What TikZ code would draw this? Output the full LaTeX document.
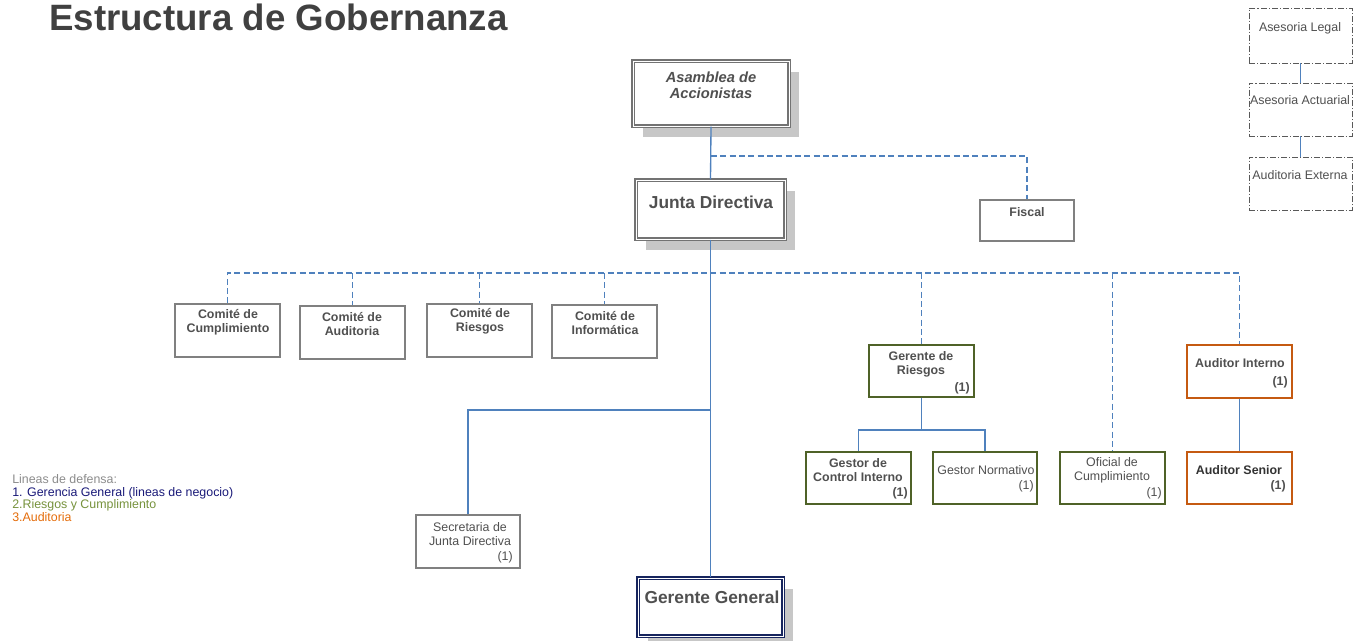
\documentclass[tikz,border=0pt]{standalone}
\usepackage{fontspec}
\setmainfont{Liberation Sans}
\usetikzlibrary{fit,shadows}
\definecolor{lineblue}{RGB}{79,129,189}
\definecolor{boxgray}{RGB}{128,128,128}
\definecolor{txtgray}{RGB}{80,80,80}
\definecolor{riskgreen}{RGB}{79,98,40}
\definecolor{audorange}{RGB}{197,90,17}
\definecolor{navy}{RGB}{23,37,94}
\definecolor{legnavy}{RGB}{25,25,120}
\definecolor{legolive}{RGB}{118,146,60}
\definecolor{legorange}{RGB}{228,108,10}
\tikzset{
  box/.style={draw=boxgray, line width=0.8pt, fill=white, inner sep=0pt},
  greenbox/.style={box, draw=riskgreen},
  orangebox/.style={box, draw=audorange},
  mainbox/.style={box, draw=boxgray!90!black, line width=1pt, double=white, double distance=0.7pt,
    drop shadow={shadow xshift=7.5pt, shadow yshift=-8.5pt, fill=black!22, opacity=1}},
  ggbox/.style={box, draw=navy, line width=1pt, double=white, double distance=0.7pt,
    drop shadow={shadow xshift=7.5pt, shadow yshift=-8.5pt, fill=black!22, opacity=1}},
  extbox/.style={box, draw=black!65, line width=0.7pt, dash pattern=on 4.5pt off 1.5pt on 0.8pt off 1.5pt},
  txt/.style={inner sep=0pt, align=center, text=txtgray, font=\fontsize{9.3}{10.5}\selectfont},
  btxt/.style={txt, font=\fontsize{9.3}{10.5}\selectfont\bfseries},
  one/.style={inner sep=0pt, anchor=east, text=txtgray, font=\fontsize{9.3}{10.5}\selectfont\bfseries},
  solidline/.style={draw=lineblue, line width=1pt},
  dashline/.style={draw=lineblue, line width=1pt, dash pattern=on 4.5pt off 2.5pt},
}
\begin{document}
\begin{tikzpicture}[x=0.75pt,y=-0.75pt]
\useasboundingbox (0,0) rectangle (1355,641);

% title
\node[inner sep=0pt, anchor=base west, text=black!75, font=\fontsize{27.5}{30}\selectfont\bfseries] (title) at (49,31) {Estructura de Gobernanza};

% main boxes
\node[mainbox, fit={(633,61) (789,126)}] (asam) {};
\node[btxt, font=\fontsize{11}{12}\selectfont\bfseries\itshape] (asamt) at (711,85) {Asamblea de\\Accionistas};
\node[mainbox, fit={(636,180) (785,239)}] (junta) {};
\node[btxt, font=\fontsize{13}{14}\selectfont\bfseries] (juntat) at (711,202) {Junta Directiva};
\node[ggbox, fit={(638,578) (783,636)}] (gg) {};
\node[btxt, font=\fontsize{13}{14}\selectfont\bfseries] (ggt) at (712,597) {Gerente General};

% fiscal
\node[box, fit={(980,200) (1074,241)}] (fiscal) {};
\node[btxt] (fiscalt) at (1027,212) {Fiscal};

% comites
\node[box, fit={(175,304) (280,357)}] (cc) {};
\node[btxt] (cct) at (228,322) {Comité de\\Cumplimiento};
\node[box, fit={(300,306) (405,359)}] (ca) {};
\node[btxt] (cat) at (352,324) {Comité de\\Auditoria};
\node[box, fit={(427,304) (532,357)}] (cr) {};
\node[btxt] (crt) at (480,321.5) {Comité de\\Riesgos};
\node[box, fit={(552,305) (657,358)}] (ci) {};
\node[btxt] (cit) at (605,323.5) {Comité de\\Informática};

% risk
\node[greenbox, fit={(869,345) (974,397)}] (gr) {};
\node[btxt] (grt) at (921,364.7) {Gerente de\\Riesgos};
\node[one] (gr1) at (970,388) {(1)};
\node[greenbox, fit={(806,452) (911,504)}] (gcl) {};
\node[btxt] (gclt) at (858,470) {Gestor de\\Control Interno};
\node[one] (gcl1) at (908,493) {(1)};
\node[greenbox, fit={(933,452) (1037,504)}] (gn) {};
\node[txt] (gnt) at (986,470) {Gestor Normativo};
\node[one, font=\fontsize{9.3}{10.5}\selectfont] (gn1) at (1034,486) {(1)};
\node[greenbox, fit={(1060,452) (1165,504)}] (oc) {};
\node[txt] (oct) at (1112,470) {Oficial de\\Cumplimiento};
\node[one, font=\fontsize{9.3}{10.5}\selectfont] (oc1) at (1162,493) {(1)};

% audit
\node[orangebox, fit={(1187,345) (1292,398)}] (ai) {};
\node[btxt] (ait) at (1240,363) {Auditor Interno};
\node[one] (ai1) at (1288,382) {(1)};
\node[orangebox, fit={(1187,452) (1292,504)}] (as) {};
\node[btxt, text=black!80] (ast) at (1239,470) {Auditor Senior};
\node[one] (as1) at (1286,486) {(1)};

% secretaria
\node[box, fit={(416,515) (520,568)}] (sec) {};
\node[txt] (sect) at (470,534.5) {Secretaria de\\Junta Directiva};
\node[one, font=\fontsize{9.3}{10.5}\selectfont] (sec1) at (513,557) {(1)};

% external advisors
\node[extbox, fit={(1249,8) (1352,63)}] (al) {};
\node[txt] (alt) at (1300,28) {Asesoria Legal};
\node[extbox, fit={(1249,83) (1352,136)}] (aa) {};
\node[txt] (aat) at (1300,100) {Asesoria Actuarial};
\node[extbox, fit={(1249,157) (1352,210)}] (ae) {};
\node[txt] (aet) at (1300,175) {Auditoria Externa};

% legend
\node[inner sep=0pt, anchor=north west, align=left, font=\fontsize{9.3}{9.6}\selectfont] (legend) at (12,474)
  {\textcolor{black!45}{Lineas de defensa:}\\
   \textcolor{legnavy}{1. Gerencia General (lineas de negocio)}\\
   \textcolor{legolive}{2.Riesgos y Cumplimiento}\\
   \textcolor{legorange}{3.Auditoria}};

% coordinates
\coordinate (b1) at (711,156);
\coordinate (b2) at (711,273);
\coordinate (b3) at (711,410);
\coordinate (b4) at (921.5,430);

% connectors
\draw[solidline] (asam.south) -- (junta.north);
\draw[solidline] (junta.south) -- (junta.south |- gg.north);
\draw[dashline] (b1) -| (fiscal.north);
\draw[dashline] (cc.north) -- (cc.north |- b2) -- (ai.north |- b2) -- (ai.north);
\draw[dashline] (ca.north |- b2) -- (ca.north);
\draw[dashline] (cr.north |- b2) -- (cr.north);
\draw[dashline] (ci.north |- b2) -- (ci.north);
\draw[dashline] (gr.north |- b2) -- (gr.north);
\draw[dashline] (oc.north |- b2) -- (oc.north);
\draw[solidline] (b3) -| (sec.north);
\draw[solidline] (gr.south) -- (b4);
\draw[solidline] (gcl.north) |- (b4) -| (gn.north);
\draw[solidline] (ai.south) -- (as.north);
\draw[solidline] (al.south) -- (aa.north);
\draw[solidline] (aa.south) -- (ae.north);
\end{tikzpicture}
\end{document}
